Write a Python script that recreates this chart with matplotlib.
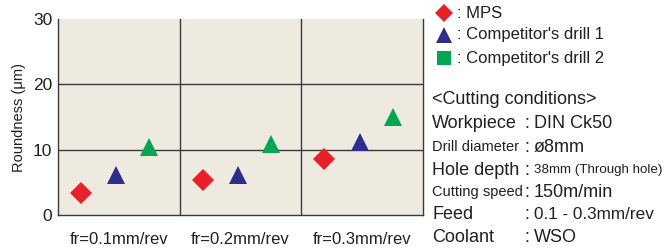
import matplotlib
matplotlib.use('Agg')
import matplotlib.pyplot as plt
from matplotlib.lines import Line2D

plt.rcParams['font.family'] = ['Liberation Sans', 'DejaVu Sans']

categories = ['fr=0.1mm/rev', 'fr=0.2mm/rev', 'fr=0.3mm/rev']
series_names = ['MPS', "Competitor's drill 1", "Competitor's drill 2"]
mps = [3.4, 5.3, 8.6]
comp1 = [6.1, 6.1, 11.1]
comp2 = [10.4, 10.9, 15.0]
yticks = [0, 10, 20, 30]

# label, value, label size, value size
conditions = [
    ('Workpiece', 'DIN Ck50', 13, 13),
    ('Drill diameter', '\u00f88mm', 10.5, 13),
    ('Hole depth', '38mm (Through hole)', 13, 9.6),
    ('Cutting speed', '150m/min', 10.5, 13),
    ('Feed', '0.1 - 0.3mm/rev', 13, 12.3),
    ('Coolant', 'WSO', 13, 13),
]

red = '#e8202a'
blue = '#2b2e8c'
green = '#00a651'
ink = '#231f20'

fig = plt.figure(figsize=(6.71, 2.49), dpi=100)
ax = fig.add_axes([58/671, 34/249, 365/671, 196/249])
ax.set_facecolor('#eeeae0')

offsets = [0.19, 0.48, 0.75]
styles = [('D', red, 11), ('^', blue, 12.5), ('^', green, 12.5)]
for vals, off, (m, c, s) in zip([mps, comp1, comp2], offsets, styles):
    xs = [i + off for i in range(len(vals))]
    ax.plot(xs, vals, linestyle='none', marker=m, color=c, markersize=s,
            markeredgewidth=0, zorder=3)

ax.set_xlim(0, 3)
ax.set_ylim(0, 30)
ax.set_yticks(yticks)
ax.set_xticks([0.5, 1.5, 2.5])
ax.set_xticklabels(categories)
ax.tick_params(length=0, colors=ink)
ax.tick_params(axis='x', pad=12, labelsize=12)
ax.tick_params(axis='y', labelsize=12.5, pad=4)
for x in [1, 2]:
    ax.axvline(x, color='#3a3a3a', lw=1)
for y in [10, 20]:
    ax.axhline(y, color='#3a3a3a', lw=1)
ax.spines['top'].set_visible(False)
for k in ['left', 'bottom', 'right']:
    ax.spines[k].set_color('#3a3a3a')
    ax.spines[k].set_linewidth(1)
ax.set_ylabel('Roundness (\u03bcm)', fontsize=10.5, color=ink, labelpad=5)

# legend
leg_y = [13, 35, 58]
leg_style = [('D', red, 9), ('^', blue, 11), ('s', green, 10)]
for name, y, (m, c, s) in zip(series_names, leg_y, leg_style):
    fig.add_artist(Line2D([444/671], [1 - y/249], transform=fig.transFigure,
                          marker=m, color=c, markersize=s, markeredgewidth=0))
    fig.text(457/671, 1 - y/249, ': ' + name, fontsize=12, va='center',
             color=ink)

fig.text(432/671, 1 - 99/249, '<Cutting conditions>', fontsize=13, va='center',
         color=ink)
cond_y = [124, 147, 170, 192, 214, 237]
for (lab, val, ls, vs), y in zip(conditions, cond_y):
    yy = 1 - y/249
    fig.text(432/671, yy, lab, fontsize=ls, va='center', color=ink)
    fig.text(524/671, yy, ':', fontsize=13, va='center', color=ink)
    fig.text(534/671, yy, val, fontsize=vs, va='center', color=ink)

fig.savefig('out.png', dpi=100)
